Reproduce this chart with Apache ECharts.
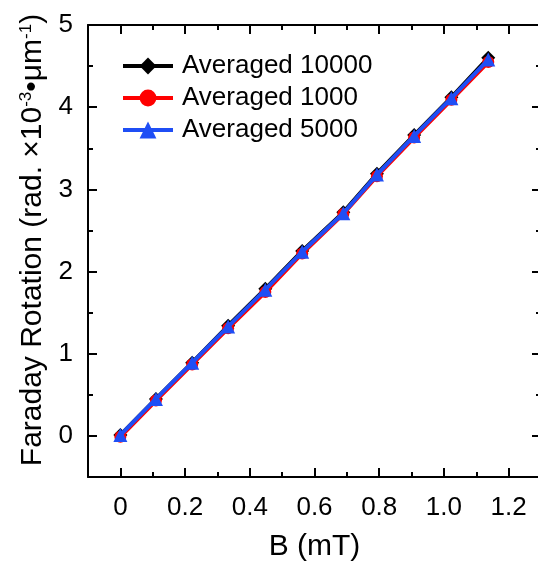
<!DOCTYPE html>
<html>
<head>
<meta charset="utf-8">
<script src="https://cdn.jsdelivr.net/npm/echarts@6/dist/echarts.min.js"></script>
<style>
  html, body { margin: 0; padding: 0; background: #fff; }
  #chart { width: 538px; height: 561px; }
</style>
</head>
<body>
<div id="chart"></div>
<script>
var bField = [0, 0.11, 0.222, 0.333, 0.448, 0.562, 0.689, 0.793, 0.908, 1.023, 1.137];
var avg10000 = [0.01, 0.45, 0.89, 1.34, 1.79, 2.25, 2.72, 3.19, 3.66, 4.12, 4.60];
var avg1000 = [-0.01, 0.43, 0.87, 1.31, 1.75, 2.22, 2.70, 3.16, 3.63, 4.09, 4.55];
var avg5000 = [0.01, 0.45, 0.89, 1.33, 1.78, 2.24, 2.71, 3.18, 3.65, 4.11, 4.58];

var xMajor = [0, 0.2, 0.4, 0.6, 0.8, 1.0, 1.2];
var xMinor = [0.1, 0.3, 0.5, 0.7, 0.9, 1.1];
var yMajor = [0, 1, 2, 3, 4, 5];
var yMinor = [0.5, 1.5, 2.5, 3.5, 4.5];

var font = "'Liberation Sans', Arial, sans-serif";

function pairs(xs, ys) {
    return xs.map(function (x, i) { return [x, ys[i]]; });
}

// one axis = one set of ticks (major or minor) on one side of the box
function xAx(pos, ticks, len, withLine, withLabel) {
    return {
        type: 'value', position: pos, min: -0.1, max: 1.3, interval: 0.1,
        splitLine: { show: false },
        axisLine: { show: withLine, onZero: false, lineStyle: { color: '#000', width: 2 } },
        axisTick: { show: true, inside: true, length: len, customValues: ticks,
                    lineStyle: { color: '#000', width: 2 } },
        axisLabel: { show: withLabel, customValues: ticks, margin: 18,
                     color: '#000', fontSize: 26, fontFamily: font,
                     formatter: function (v) { return v === 0 ? '0' : v.toFixed(1); } }
    };
}
function yAx(pos, ticks, len, withLine, withLabel) {
    return {
        type: 'value', position: pos, min: -0.5, max: 5, interval: 0.5,
        splitLine: { show: false },
        axisLine: { show: withLine, onZero: false, lineStyle: { color: '#000', width: 2 } },
        axisTick: { show: true, inside: true, length: len, customValues: ticks,
                    lineStyle: { color: '#000', width: 2 } },
        axisLabel: { show: withLabel, customValues: ticks, margin: 15,
                     color: '#000', fontSize: 26, fontFamily: font }
    };
}

var xAxes = [
    xAx('bottom', xMajor, 9, true, true),
    xAx('bottom', xMinor, 5, false, false),
    xAx('top', xMajor, 9, true, false),
    xAx('top', xMinor, 5, false, false)
];
xAxes[0].name = 'B (mT)';
xAxes[0].nameLocation = 'middle';
xAxes[0].nameGap = 55;
xAxes[0].nameTextStyle = { color: '#000', fontSize: 30, fontFamily: font };

var yAxes = [
    yAx('left', yMajor, 9, true, true),
    yAx('left', yMinor, 5, false, false),
    yAx('right', yMajor, 9, true, false),
    yAx('right', yMinor, 5, false, false)
];
yAxes[0].name = '{a|Faraday Rotation (rad. ×10}{s|-3}{a|•μm}{s|-1}{a|)}';
yAxes[0].nameLocation = 'middle';
yAxes[0].nameGap = 40;
yAxes[0].nameTextStyle = {
    color: '#000', fontSize: 30, fontFamily: font,
    padding: [0, 0, 0, 22],
    rich: {
        a: { color: '#000', fontSize: 30, fontFamily: font },
        s: { color: '#000', fontSize: 17, fontFamily: font, verticalAlign: 'top' }
    }
};

var myChart = echarts.init(document.getElementById('chart'));
var option = {
    animation: false,
    backgroundColor: '#fff',
    grid: { left: 88, top: 25, width: 453, height: 452, containLabel: false, outerBoundsMode: 'none' },
    legend: {
        left: 116, top: 48, orient: 'vertical', itemGap: 6,
        itemWidth: 50, itemHeight: 21,
        lineStyle: { width: 4 },
        textStyle: { color: '#000', fontSize: 26, fontFamily: font, padding: [0, 0, 0, 4] },
        data: ['Averaged 10000', 'Averaged 1000', 'Averaged 5000']
    },
    xAxis: xAxes,
    yAxis: yAxes,
    series: [
        {
            name: 'Averaged 10000', type: 'line', symbol: 'diamond', symbolSize: 14,
            itemStyle: { color: '#000' }, lineStyle: { color: '#000', width: 4 },
            data: pairs(bField, avg10000), z: 2
        },
        {
            name: 'Averaged 1000', type: 'line', symbol: 'circle', symbolSize: 12,
            itemStyle: { color: '#ff0000' }, lineStyle: { color: '#ff0000', width: 4 },
            data: pairs(bField, avg1000), z: 3
        },
        {
            name: 'Averaged 5000', type: 'line', symbol: 'triangle', symbolSize: 14,
            itemStyle: { color: '#1f4ef5' }, lineStyle: { color: '#1f4ef5', width: 4 },
            data: pairs(bField, avg5000), z: 4
        }
    ]
};
myChart.setOption(option);
</script>
</body>
</html>
